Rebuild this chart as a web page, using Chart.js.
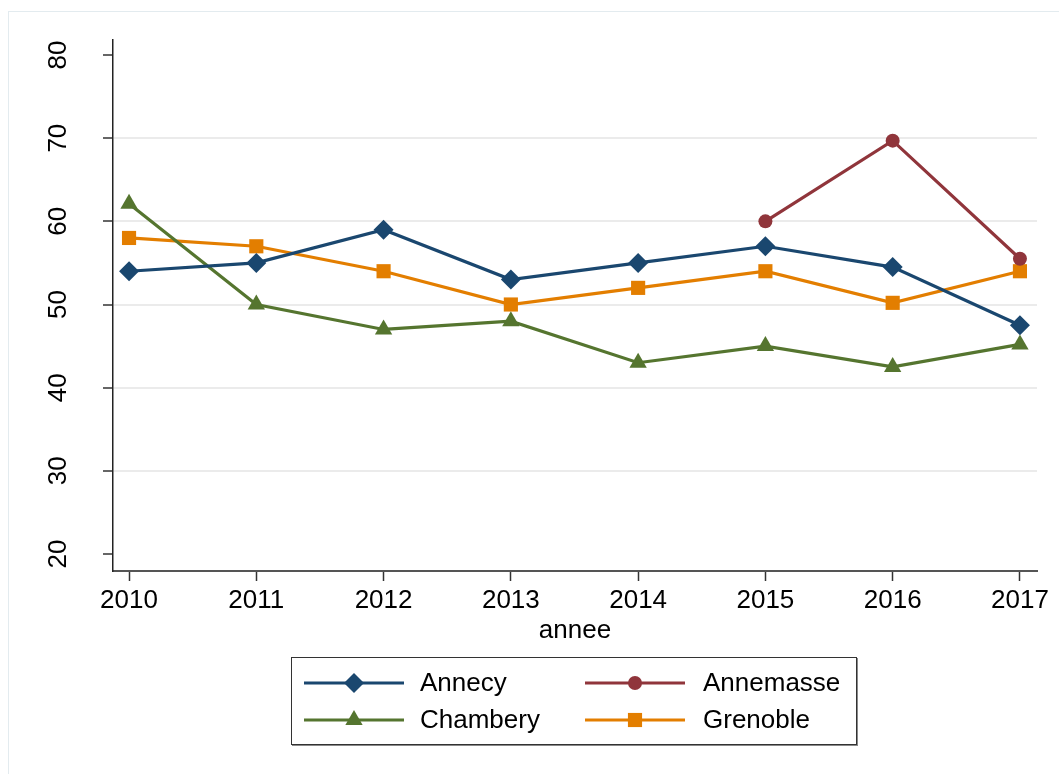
<!DOCTYPE html>
<html>
<head>
<meta charset="utf-8">
<script src="https://cdn.jsdelivr.net/npm/chart.js@4.4.1/dist/chart.umd.min.js"></script>
<style>
  body { margin: 0; background: #fff; font-family: "Liberation Sans", Arial, sans-serif; }
  #wrap { position: relative; width: 1059px; height: 774px; overflow: hidden; }
  #frame { position: absolute; left: 8px; top: 11px; width: 1100px; height: 800px;
           border-left: 1px solid #e3ebef; border-top: 1px solid #e3ebef; }
  #chart { position: absolute; left: 0; top: 0; }
  #legend { position: absolute; left: 291px; top: 657px; width: 566px; height: 88px;
            border: 1.5px solid #333; box-shadow: 1px 1px 0 #888; box-sizing: border-box; }
  .key { position: absolute; }
  .lbl { position: absolute; font-size: 26px; line-height: 30px; color: #000; white-space: nowrap; }
</style>
</head>
<body>
<div id="wrap">
  <div id="frame"></div>
  <canvas id="chart" width="1059" height="774"></canvas>
  <div id="legend"></div>
</div>
<script>
// ---------------------------------------------------------------------------
// Data
// ---------------------------------------------------------------------------

const years     = [2010, 2011, 2012, 2013, 2014, 2015, 2016, 2017];
const annecy    = [54, 55, 59, 53, 55, 57, 54.5, 47.5];
const annemasse = [null, null, null, null, null, 60, 69.7, 55.5];
const chambery  = [62.1, 50, 47, 48, 43, 45, 42.5, 45.2];
const grenoble  = [58, 57, 54, 50, 52, 54, 50.2, 54];
const yTicks    = [20, 30, 40, 50, 60, 70, 80];

const seriesNames  = ['Annecy', 'Annemasse', 'Chambery', 'Grenoble'];
const seriesValues = [annecy, annemasse, chambery, grenoble];
const seriesColors = ['#1a476f', '#90353b', '#55752f', '#e37e00'];
const seriesShapes = ['rectRot', 'circle', 'triangle', 'rect'];
const seriesRadius = [10, 7, 10, 10];

const FONT = '"Liberation Sans", Arial, sans-serif';

// ---------------------------------------------------------------------------
// Chart
// ---------------------------------------------------------------------------

const datasets = seriesNames.map((name, i) => ({
  label: name,
  data: years.map((yr, j) => ({ x: yr, y: seriesValues[i][j] })),
  borderColor: seriesColors[i],
  backgroundColor: seriesColors[i],
  borderWidth: 3.2,
  pointStyle: seriesShapes[i],
  pointRadius: seriesRadius[i],
  pointBorderWidth: 0,
  pointBackgroundColor: seriesColors[i],
  tension: 0,
  spanGaps: false,
}));

new Chart(document.getElementById('chart'), {
  type: 'line',
  data: { datasets },
  options: {
    responsive: false,
    animation: false,
    layout: { padding: { left: 0, top: 40, right: 22, bottom: 128 } },
    plugins: { legend: { display: false }, tooltip: { enabled: false } },
    scales: {
      x: {
        type: 'linear',
        min: 2009.874,
        max: 2017.134,
        afterBuildTicks: (s) => { s.ticks = years.map(v => ({ value: v })); },
        afterFit: (s) => { s.height = 75; },
        border: { display: true, color: '#555', width: 2 },
        grid: { drawOnChartArea: false, drawTicks: true, tickLength: 10, tickColor: '#333', tickWidth: 1.5 },
        ticks: { color: '#000', padding: 4, font: { family: FONT, size: 26 }, maxRotation: 0, callback: v => String(v) },
        title: { display: true, text: 'annee', color: '#000', padding: { top: 0, bottom: 0 },
                 font: { family: FONT, size: 26 } },
      },
      y: {
        min: 17.96,
        max: 81.8,
        afterBuildTicks: (s) => { s.ticks = yTicks.map(v => ({ value: v })); },
        afterFit: (s) => { s.width = 113; s.paddingTop = 0; s.paddingBottom = 0; },
        border: { display: true, color: '#222', width: 1.5 },
        grid: {
          color: (c) => (c.tick && (c.tick.value === 20 || c.tick.value === 80)) ? 'rgba(0,0,0,0)' : '#ebebeb',
          lineWidth: 2,
          tickLength: 10,
          tickColor: '#333',
          tickWidth: 1.5,
        },
        ticks: { color: '#000', minRotation: 90, maxRotation: 90, crossAlign: 'center', padding: 30,
                 font: { family: FONT, size: 26, lineHeight: 0.6 } },
      },
    },
  },
});

// ---------------------------------------------------------------------------
// Legend (HTML, 2 columns)
// ---------------------------------------------------------------------------

function markerSvg(shape, color, r) {
  const cx = 50, cy = 12;
  let m = '';
  if (shape === 'rectRot') {
    m = `<polygon points="${cx - r},${cy} ${cx},${cy - r} ${cx + r},${cy} ${cx},${cy + r}" fill="${color}"/>`;
  } else if (shape === 'circle') {
    m = `<circle cx="${cx}" cy="${cy}" r="${r}" fill="${color}"/>`;
  } else if (shape === 'triangle') {
    const h = r * Math.sqrt(3) / 2;
    m = `<polygon points="${cx},${cy - r} ${cx + h},${cy + r / 2} ${cx - h},${cy + r / 2}" fill="${color}"/>`;
  } else {
    const s = r * Math.SQRT1_2;
    m = `<rect x="${cx - s}" y="${cy - s}" width="${2 * s}" height="${2 * s}" fill="${color}"/>`;
  }
  return `<svg width="100" height="24" viewBox="0 0 100 24">
    <line x1="0" y1="${cy}" x2="100" y2="${cy}" stroke="${color}" stroke-width="3"/>${m}</svg>`;
}

const legendOrder = [0, 1, 2, 3];
const colX  = [[12, 128], [293, 411]];
const rowY  = [25, 62];
document.getElementById('legend').innerHTML = legendOrder.map((idx, k) => {
  const col = k % 2, row = Math.floor(k / 2);
  const [kx, tx] = colX[col];
  const cy = rowY[row];
  return `
    <div class="key" style="left:${kx}px;top:${cy - 12}px">${markerSvg(seriesShapes[idx], seriesColors[idx], seriesRadius[idx])}</div>
    <div class="lbl" style="left:${tx}px;top:${cy - 16}px">${seriesNames[idx]}</div>`;
}).join('');
</script>
</body>
</html>
